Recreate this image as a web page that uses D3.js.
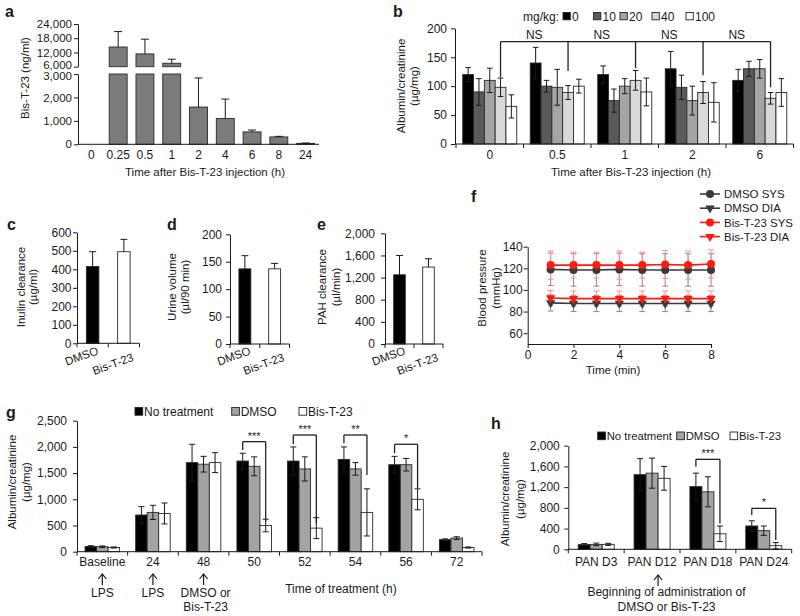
<!DOCTYPE html>
<html>
<head>
<meta charset="utf-8">
<script src="https://cdn.jsdelivr.net/npm/d3@7"></script>
<style>
body{margin:0;background:#fff}
svg{display:block}
</style>
</head>
<body>
<svg id="fig" width="800" height="616"></svg>
<script>
// ---- panel a : plasma conc
var aTimes = ['0', '0.25', '0.5', '1', '2', '4', '6', '8', '24'];
var aConc = [0, 14300, 11400, 7450, 1590, 1100, 530, 315, 40];
var aConcSD = [0, 6500, 6200, 1700, 1240, 830, 80, 25, 15];
var aTicksLow = [0, 1000, 2000, 3000];
var aTicksHigh = [6000, 12000, 18000, 24000];

// ---- panel b : albumin/creatinine by dose
var bTimes = ['0', '0.5', '1', '2', '6'];
var bDoses = ['0', '10', '20', '40', '100'];
var bAlb0 = [120, 140, 120, 130, 110];
var bAlb0SD = [12, 27, 15, 30, 19];
var bAlb10 = [90, 100, 75, 98, 130];
var bAlb10SD = [23, 10, 20, 21, 13];
var bAlb20 = [110, 98, 100, 75, 130];
var bAlb20SD = [21, 31, 13, 25, 16];
var bAlb40 = [98, 89, 110, 89, 79];
var bAlb40SD = [16, 12, 17, 19, 10];
var bAlb100 = [65, 100, 90, 72, 89];
var bAlb100SD = [20, 12, 24, 34, 24];
var bTicks = [0, 50, 100, 150, 200];
var bNsTop = 177;
var bNsEnds = [116, 126, 131, 119, 98];

// ---- panels c, d, e
var cdeGroups = ['DMSO', 'Bis-T-23'];
var cInulin = [415, 495];
var cInulinSD = [80, 67];
var cTicks = [0, 100, 200, 300, 400, 500, 600];
var dUrine = [137, 137];
var dUrineSD = [24, 10];
var dTicks = [0, 50, 100, 150, 200];
var ePah = [1250, 1390];
var ePahSD = [350, 150];
var eTicks = [0, 400, 800, 1200, 1600, 2000];

// ---- panel f : blood pressure
var fTime = [1, 2, 3, 4, 5, 6, 7, 8];
var fDmsoSys = [119, 118.5, 118.5, 119, 118.5, 118.5, 118.5, 118.5];
var fDmsoSysSD = [15, 15, 15, 15, 15, 15, 15, 15];
var fDmsoDia = [88, 87.5, 87.5, 87.5, 87.5, 87.5, 87.5, 87.5];
var fDmsoDiaSD = [7.5, 7.5, 7.5, 7.5, 7.5, 7.5, 7.5, 7.5];
var fBisSys = [123, 123, 123, 123, 123, 123.5, 123, 124];
var fBisSysSD = [13, 12, 12, 13, 12, 13, 13, 13];
var fBisDia = [92.5, 92, 92, 92, 92, 92, 92, 92];
var fBisDiaSD = [7, 7, 7, 7, 7, 7, 7, 7];
var fTicksX = [0, 2, 4, 6, 8];
var fTicksY = [60, 80, 100, 120, 140];

// ---- panel g : LPS model
var gGroups = ['Baseline', '24', '48', '50', '52', '54', '56', '72'];
var gNoTreat = [100, 700, 1700, 1730, 1730, 1760, 1660, 230];
var gNoTreatSD = [15, 160, 350, 150, 270, 240, 160, 15];
var gDmso = [95, 750, 1670, 1630, 1580, 1580, 1660, 260];
var gDmsoSD = [15, 135, 150, 180, 230, 120, 120, 25];
var gBis = [80, 730, 1700, 500, 450, 750, 1000, 80];
var gBisSD = [10, 200, 190, 120, 200, 450, 200, 10];
var gTicks = [0, 500, 1000, 1500, 2000, 2500];
var gSig = [
  {group: '50', label: '***', top: 2100, left: 1940, right: 575},
  {group: '52', label: '***', top: 2227, left: 2050, right: 545},
  {group: '54', label: '**', top: 2227, left: 2070, right: 1465},
  {group: '56', label: '*', top: 2050, left: 1880, right: 1210}
];

// ---- panel h : PAN model
var hGroups = ['PAN D3', 'PAN D12', 'PAN D18', 'PAN D24'];
var hNoTreat = [90, 1440, 1210, 450];
var hNoTreatSD = [20, 310, 260, 100];
var hDmso = [95, 1470, 1110, 360];
var hDmsoSD = [25, 290, 290, 90];
var hBis = [95, 1370, 300, 70];
var hBisSD = [20, 230, 150, 60];
var hTicks = [0, 400, 800, 1200, 1600, 2000];
var hSig = [
  {group: 'PAN D18', label: '***', top: 1737, left: 1595, right: 500},
  {group: 'PAN D24', label: '*', top: 790, left: 660, right: 180}
];

var FF = '"Liberation Sans", Arial, Helvetica, sans-serif';
var INK = '#1a1a1a';
var svg = d3.select('#fig').attr('font-family', FF);
var comma = d3.format(',');

var addText = function(x, y, s, o){
  o = o || {};
  return svg.append('text')
    .attr('x', x).attr('y', y).text(s)
    .attr('font-size', o.size || 11.5)
    .attr('text-anchor', o.anchor || 'start')
    .attr('font-weight', o.bold ? 'bold' : null)
    .attr('fill', INK);
};

var panelLabel = function(x, y, s){
  addText(x, y, s, {size: 16, bold: true});
};

// rotated y title, one or two lines
var yTitle = function(lines, xs, yc){
  lines.forEach(function(l, i){
    svg.append('text')
      .attr('transform', 'translate(' + xs[i] + ',' + yc + ') rotate(-90)')
      .attr('text-anchor', 'middle').attr('dy', '0.35em')
      .attr('font-size', 11.5).attr('fill', INK).text(l);
  });
};

var line = function(x1, y1, x2, y2, col, w){
  return svg.append('line').attr('x1', x1).attr('y1', y1).attr('x2', x2).attr('y2', y2)
    .attr('stroke', col || INK).attr('stroke-width', w || 1);
};

var yAxis = function(y, x, ticks, gap, size){
  var g = svg.append('g').attr('transform', 'translate(' + x + ',0)')
    .call(d3.axisLeft(y).tickValues(ticks).tickFormat(comma).tickSize(4).tickSizeOuter(0).tickPadding(gap - 4));
  g.attr('font-family', FF).attr('font-size', size || 12);
  g.selectAll('path,line').attr('stroke', INK);
  g.selectAll('text').attr('fill', INK);
  return g;
};

// excel-ish category axis: line, ticks between categories, labels under centres
var catAxis = function(x, y0, pad, ticks){
  var r = x.range();
  line(r[0], y0, r[1], y0);
  if (ticks) {
    var n = x.domain().length;
    var step = (r[1] - r[0]) / n;
    d3.range(n + 1).forEach(function(k){
      line(r[0] + k * step, y0, r[0] + k * step, y0 + 4);
    });
  }
  var g = svg.append('g').attr('transform', 'translate(0,' + y0 + ')')
    .call(d3.axisBottom(x).tickSize(0).tickPadding(pad));
  g.select('.domain').remove();
  g.attr('font-family', FF).attr('font-size', 12);
  g.selectAll('text').attr('fill', INK);
};

// cap at the top, and at the bottom too if yLo is given
var errBar = function(cx, yHi, yLo, cap, col){
  col = col || INK;
  line(cx, yHi, cx, yLo, col);
  line(cx - cap / 2, yHi, cx + cap / 2, yHi, col);
  line(cx - cap / 2, yLo, cx + cap / 2, yLo, col);
};
var errUp = function(cx, yHi, yBar, cap){
  line(cx, yHi, cx, yBar);
  line(cx - cap / 2, yHi, cx + cap / 2, yHi);
};

var bar = function(x, y, w, h, fill){
  svg.append('rect').attr('x', x).attr('y', y).attr('width', w).attr('height', Math.max(0, h))
    .attr('fill', fill).attr('stroke', '#2a2a2a').attr('stroke-width', 0.9);
};

// ================= a
var drawA = function(){
  panelLabel(5, 17, 'a');
  var x = d3.scaleBand().domain(aTimes).range([78, 319]).paddingInner(0.33).paddingOuter(0.165);
  var yLow = d3.scaleLinear().domain([0, 3000]).range([144.3, 74]);
  var yHigh = d3.scaleLinear().domain([6000, 24000]).range([66.7, 24]);
  var bw = x.bandwidth();
  aTimes.forEach(function(t, i){
    var v = aConc[i], sd = aConcSD[i];
    if (!v) return;
    var cx = x(t) + bw / 2;
    var top = yLow(Math.min(v, 3000));
    bar(x(t), top, bw, yLow(0) - top, '#7b7b7b');
    if (v > 3000) {
      bar(x(t), yHigh(v), bw, yHigh(6000) - yHigh(v), '#7b7b7b');
      errUp(cx, yHigh(v + sd), yHigh(v), 8);
    } else {
      errUp(cx, yLow(v + sd), yLow(v), 8);
    }
  });
  var gl = yAxis(yLow, 78, aTicksLow, 6, 11.5);
  var gh = yAxis(yHigh, 78, aTicksHigh, 6, 11.5);
  // the two labels at the break sit very close, push them apart a little
  gl.selectAll('.tick text').filter(function(d){ return d === 3000; }).attr('dy', '0.5em');
  gh.selectAll('.tick text').filter(function(d){ return d === 6000; }).attr('dy', '0.15em');
  catAxis(x, 144.3, 6.5, false);
  yTitle(['Bis-T-23 (ng/ml)'], [25], 78);
  addText(205, 176, 'Time after Bis-T-23 injection (h)', {anchor: 'middle'});
};

// ================= b
var drawB = function(){
  panelLabel(393, 17, 'b');
  var series = [bAlb0, bAlb10, bAlb20, bAlb40, bAlb100];
  var sds = [bAlb0SD, bAlb10SD, bAlb20SD, bAlb40SD, bAlb100SD];
  var fills = ['#000000', '#5a5a5a', '#a5a5a5', '#d9d9d9', '#ffffff'];
  var x = d3.scaleBand().domain(bTimes).range([456, 793.5]).paddingInner(0.2).paddingOuter(0.1);
  var xi = d3.scaleBand().domain(bDoses).range([0, x.bandwidth()]);
  var y = d3.scaleLinear().domain([0, 200]).range([144, 28.3]);
  var bw = xi.bandwidth();
  bDoses.forEach(function(d, j){
    bTimes.forEach(function(t, i){
      var v = series[j][i];
      bar(x(t) + xi(d), y(v), bw, y(0) - y(v), fills[j]);
    });
  });
  bDoses.forEach(function(d, j){
    bTimes.forEach(function(t, i){
      var v = series[j][i], sd = sds[j][i];
      errBar(x(t) + xi(d) + bw / 2, y(v + sd), y(v - sd), 5.5);
    });
  });
  yAxis(y, 455, bTicks, 8);
  catAxis(x, 144, 6.8, true);
  // NS bracket across the 40 mg/kg bars
  var xs = bTimes.map(function(t){ return x(t) + xi('40') + bw / 2; });
  line(xs[0], y(bNsTop), xs[xs.length - 1], y(bNsTop), '#222', 1.3);
  xs.forEach(function(xx, i){ line(xx, y(bNsTop), xx, y(bNsEnds[i]), '#222', 1.3); });
  for (var i = 0; i < xs.length - 1; i++) {
    addText((xs[i] + xs[i + 1]) / 2, y(bNsTop) - 3, 'NS', {anchor: 'middle', size: 12});
  }
  // legend
  var lx = [563, 593.5, 620, 652, 686];
  addText(523, 20.5, 'mg/kg:', {size: 12});
  bDoses.forEach(function(d, j){
    svg.append('rect').attr('x', lx[j]).attr('y', 12.5).attr('width', 7.3).attr('height', 7.3)
      .attr('fill', fills[j]).attr('stroke', '#222').attr('stroke-width', 0.9);
    addText(lx[j] + 9, 20.5, d, {size: 12});
  });
  yTitle(['Albumin/creatinine', '(\u00b5g/mg)'], [401, 414], 86);
  addText(631, 176, 'Time after Bis-T-23 injection (h)', {anchor: 'middle'});
};

// ================= c d e (two bars each)
var drawSmall = function(opt){
  panelLabel(opt.lx, 230, opt.letter);
  var x = d3.scaleBand().domain(cdeGroups).range([opt.x0, opt.x1]).paddingInner(0.6).paddingOuter(0.3);
  var y = d3.scaleLinear().domain([0, opt.max]).range([opt.yBot, opt.yTop]);
  var bw = x.bandwidth();
  var fills = ['#000000', '#ffffff'];
  cdeGroups.forEach(function(g, i){
    var v = opt.vals[i], sd = opt.sd[i], cx = x(g) + bw / 2;
    bar(x(g), y(v), bw, y(0) - y(v), fills[i]);
    errUp(cx, y(v + sd), y(v), 7);
  });
  yAxis(y, opt.x0, opt.ticks, opt.gap);
  var r = x.range();
  line(r[0], opt.yBot, r[1], opt.yBot);
  [r[0], (r[0] + r[1]) / 2, r[1]].forEach(function(xx){ line(xx, opt.yBot, xx, opt.yBot + 4); });
  cdeGroups.forEach(function(g, i){
    svg.append('text')
      .attr('transform', 'translate(' + (x(g) + bw / 2 - 11) + ',' + (356 + i * 8) + ') rotate(-20)')
      .attr('text-anchor', 'middle').attr('dy', '0.35em')
      .attr('font-size', 11.5).attr('fill', INK).text(g);
  });
  yTitle(opt.title, opt.tx, 287);
};

// ================= f
var drawF = function(){
  panelLabel(471, 201.5, 'f');
  var x = d3.scaleLinear().domain([0, 8]).range([527.7, 711]);
  var y = d3.scaleLinear().domain([50, 140]).range([344, 246.7]);
  var sets = [
    {name: 'DMSO SYS', v: fDmsoSys, sd: fDmsoSysSD, col: '#3a3a3a', err: '#8a8a8a', tri: false},
    {name: 'DMSO DIA', v: fDmsoDia, sd: fDmsoDiaSD, col: '#3a3a3a', err: '#8a8a8a', tri: true},
    {name: 'Bis-T-23 SYS', v: fBisSys, sd: fBisSysSD, col: '#ff1a10', err: '#ff8f8a', tri: false},
    {name: 'Bis-T-23 DIA', v: fBisDia, sd: fBisDiaSD, col: '#ff1a10', err: '#ff8f8a', tri: true}
  ];
  var tri = d3.symbol().type(d3.symbolTriangle).size(38);
  var marker = function(s, cx, cy){
    if (s.tri) {
      svg.append('path').attr('d', tri()).attr('fill', s.col)
        .attr('transform', 'translate(' + cx + ',' + cy + ') rotate(180)');
    } else {
      svg.append('circle').attr('cx', cx).attr('cy', cy).attr('r', 4).attr('fill', s.col);
    }
  };
  // error bars first, faint
  sets.forEach(function(s){
    fTime.forEach(function(t, i){
      errBar(x(t), y(s.v[i] + s.sd[i]), y(s.v[i] - s.sd[i]), 6, s.err);
    });
  });
  var path = d3.line().x(function(d, i){ return x(fTime[i]); }).y(function(d){ return y(d); });
  sets.forEach(function(s){
    svg.append('path').attr('d', path(s.v)).attr('fill', 'none').attr('stroke', s.col).attr('stroke-width', 1.6);
    fTime.forEach(function(t, i){ marker(s, x(t), y(s.v[i])); });
  });
  var gy = svg.append('g').attr('transform', 'translate(527.7,0)')
    .call(d3.axisLeft(y).tickValues(fTicksY).tickSize(4).tickSizeOuter(0).tickPadding(1));
  var gx = svg.append('g').attr('transform', 'translate(0,344)')
    .call(d3.axisBottom(x).tickValues(fTicksX).tickSize(4).tickSizeOuter(0).tickPadding(2.5));
  [gx, gy].forEach(function(g){
    g.attr('font-family', FF).attr('font-size', 12);
    g.selectAll('path,line').attr('stroke', INK);
    g.selectAll('text').attr('fill', INK);
  });
  yTitle(['Blood pressure', '(mmHg)'], [482, 496], 288);
  addText(613, 374, 'Time (min)', {anchor: 'middle'});
  // legend
  sets.forEach(function(s, i){
    var ly = 194 + i * 14.2;
    line(700, ly, 720, ly, s.col, 1.6);
    marker(s, 710, ly);
    addText(724, ly + 4.2, s.name);
  });
};

// ================= g / h grouped bars
var drawGrouped = function(opt){
  panelLabel(opt.lx, opt.ly, opt.letter);
  var keys = ['No treatment', 'DMSO', 'Bis-T-23'];
  var fills = ['#000000', '#a3a3a3', '#ffffff'];
  var x = d3.scaleBand().domain(opt.groups).range([opt.x0, opt.x1]).paddingInner(opt.pad).paddingOuter(opt.pad / 2);
  var xi = d3.scaleBand().domain(keys).range([0, x.bandwidth()]);
  var y = d3.scaleLinear().domain([0, opt.max]).range([opt.yBot, opt.yTop]);
  var bw = xi.bandwidth();
  keys.forEach(function(k, j){
    opt.groups.forEach(function(g, i){
      var v = opt.series[j][i];
      bar(x(g) + xi(k), y(v), bw, y(0) - y(v), fills[j]);
    });
  });
  keys.forEach(function(k, j){
    opt.groups.forEach(function(g, i){
      var v = opt.series[j][i], sd = opt.sds[j][i];
      errBar(x(g) + xi(k) + bw / 2, y(v + sd), y(v - sd), 6);
    });
  });
  yAxis(y, opt.x0, opt.ticks, opt.gap);
  catAxis(x, opt.yBot, opt.tpad, true);
  // significance brackets
  opt.sig.forEach(function(s){
    var xl = x(s.group) + xi('No treatment') + bw / 2;
    var xr = x(s.group) + xi('Bis-T-23') + bw / 2;
    line(xl, y(s.top), xr, y(s.top), '#222', 1.3);
    line(xl, y(s.top), xl, y(s.left), '#222', 1.3);
    line(xr, y(s.top), xr, y(s.right), '#222', 1.3);
    addText((xl + xr) / 2, y(s.top) - 2, s.label, {anchor: 'middle', size: 11});
  });
  // legend
  keys.forEach(function(k, j){
    var lx = opt.legX[j];
    svg.append('rect').attr('x', lx).attr('y', opt.legY - 8).attr('width', 7.7).attr('height', 7.7)
      .attr('fill', fills[j]).attr('stroke', '#222').attr('stroke-width', 0.9);
    addText(lx + 9, opt.legY, k, {size: opt.legSize});
  });
  yTitle(['Albumin/creatinine', '(\u00b5g/mg)'], opt.tx, opt.ty);
  return x;
};

var arrow = function(cx, y0){
  line(cx, y0, cx, y0 + 11, INK, 1.2);
  svg.append('path').attr('d', 'M' + (cx - 4) + ',' + (y0 + 5) + 'L' + cx + ',' + y0 + 'L' + (cx + 4) + ',' + (y0 + 5))
    .attr('fill', 'none').attr('stroke', INK).attr('stroke-width', 1.2);
};

drawA();
drawB();
drawSmall({letter: 'c', lx: 7, x0: 77, x1: 139.5, yBot: 343.3, yTop: 232.3, max: 600,
  vals: cInulin, sd: cInulinSD, ticks: cTicks, gap: 5.5, title: ['Inulin clearance', '(\u00b5g/ml)'], tx: [20.5, 33]});
drawSmall({letter: 'd', lx: 167, x0: 230, x1: 289.5, yBot: 344, yTop: 234.3, max: 200,
  vals: dUrine, sd: dUrineSD, ticks: dTicks, gap: 8, title: ['Urine volume', '(\u00b5l/90 min)'], tx: [172, 185]});
drawSmall({letter: 'e', lx: 317, x0: 385, x1: 443, yBot: 344, yTop: 233.3, max: 2000,
  vals: ePah, sd: ePahSD, ticks: eTicks, gap: 10, title: ['PAH clearance', '(\u00b5l/min)'], tx: [322, 336]});
drawF();

var xg = drawGrouped({letter: 'g', lx: 6, ly: 418, groups: gGroups, x0: 77, x1: 482, pad: 0.318,
  yBot: 551.7, yTop: 420.7, max: 2500, ticks: gTicks, gap: 10, tpad: 6.2,
  series: [gNoTreat, gDmso, gBis], sds: [gNoTreatSD, gDmsoSD, gBisSD], sig: gSig,
  legX: [135, 231.7, 299], legY: 415.5, legSize: 12, tx: [11.5, 25.5], ty: 482});
var xh = drawGrouped({letter: 'h', lx: 491, ly: 429, groups: hGroups, x0: 568.3, x1: 791.7, pad: 0.355,
  yBot: 549.3, yTop: 445.7, max: 2000, ticks: hTicks, gap: 8.5, tpad: 8.5,
  series: [hNoTreat, hDmso, hBis], sds: [hNoTreatSD, hDmsoSD, hBisSD], sig: hSig,
  legX: [597.7, 676.7, 730], legY: 440, legSize: 11.3, tx: [505, 520], ty: 499});

// notes under g and h
['Baseline', '24', '48'].forEach(function(g){
  arrow(xg(g) + xg.bandwidth() / 2, 574);
});
addText(xg('Baseline') + xg.bandwidth() / 2, 597, 'LPS', {anchor: 'middle', size: 12});
addText(xg('24') + xg.bandwidth() / 2, 597, 'LPS', {anchor: 'middle', size: 12});
addText(xg('48') + xg.bandwidth() / 2 + 2, 597, 'DMSO or', {anchor: 'middle', size: 12});
addText(xg('48') + xg.bandwidth() / 2 + 2, 611, 'Bis-T-23', {anchor: 'middle', size: 12});
addText(341, 592.5, 'Time of treatment (h)', {anchor: 'middle', size: 12});

arrow(xh('PAN D12') + xh.bandwidth() / 2 + 6, 575);
addText(666.5, 596, 'Beginning of administration of', {anchor: 'middle', size: 12});
addText(666.5, 611, 'DMSO or Bis-T-23', {anchor: 'middle', size: 12});
</script>
</body>
</html>
